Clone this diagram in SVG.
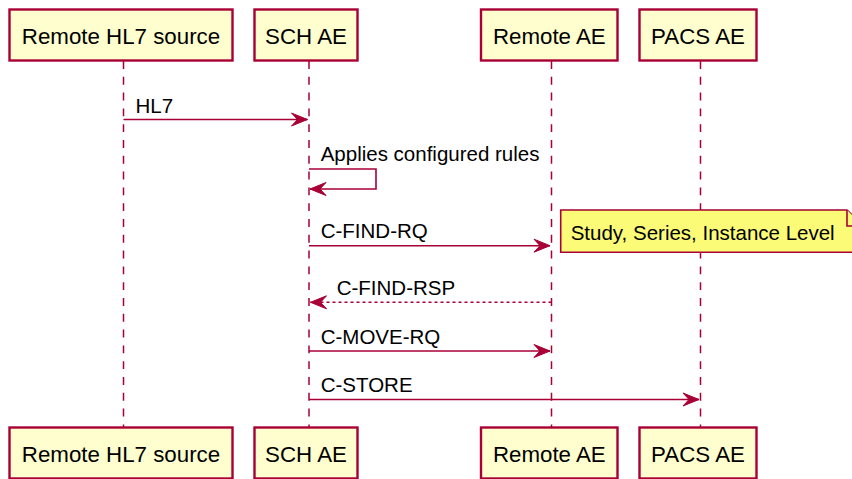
<svg xmlns="http://www.w3.org/2000/svg" width="852" height="479" viewBox="0 0 852 479">
<style>
.box{fill:#FEFECE;stroke:#A80036;stroke-width:2.4}
.life{stroke:#A80036;stroke-width:1.5;stroke-dasharray:7.9,7.9;fill:none}
.msg{stroke:#A80036;stroke-width:1.6;fill:none}
.dot{stroke-dasharray:3,3}
.pt{font-family:"Liberation Sans",Arial,sans-serif;font-size:22.3px;fill:#000;text-anchor:middle}
.mt{font-family:"Liberation Sans",Arial,sans-serif;font-size:20.5px;fill:#000}
.note{fill:#FBFB77;stroke:#A80036;stroke-width:1.6}
</style>
<defs>
<marker id="ah" markerUnits="userSpaceOnUse" viewBox="-17 -8 18 16" refX="0" refY="0" markerWidth="18" markerHeight="16" orient="auto">
<path d="M0,0 L-16,-6.5 L-10,0 L-16,6.5 Z" fill="#A80036" stroke="#A80036" stroke-width="1"/>
</marker>
</defs>
<g id="lifelines">
<line class="life" x1="123.5" y1="61" x2="123.5" y2="427"/>
<line class="life" x1="309" y1="61" x2="309" y2="427"/>
<line class="life" x1="551.5" y1="61" x2="551.5" y2="427"/>
<line class="life" x1="700.5" y1="61" x2="700.5" y2="427"/>
</g>
<g id="p-hl7">
<rect class="box" x="9.5" y="9.5" width="223" height="51"/>
<text class="pt" x="121" y="44">Remote HL7 source</text>
<rect class="box" x="9.5" y="427.5" width="223" height="51"/>
<text class="pt" x="121" y="462">Remote HL7 source</text>
</g>
<g id="p-sch">
<rect class="box" x="254.5" y="9.5" width="103" height="51"/>
<text class="pt" x="306" y="44">SCH AE</text>
<rect class="box" x="254.5" y="427.5" width="103" height="51"/>
<text class="pt" x="306" y="462">SCH AE</text>
</g>
<g id="p-remote">
<rect class="box" x="481" y="9.5" width="136.5" height="51"/>
<text class="pt" x="549.3" y="44">Remote AE</text>
<rect class="box" x="481" y="427.5" width="136.5" height="51"/>
<text class="pt" x="549.3" y="462">Remote AE</text>
</g>
<g id="p-pacs">
<rect class="box" x="639.5" y="9.5" width="117" height="51"/>
<text class="pt" x="698" y="44">PACS AE</text>
<rect class="box" x="639.5" y="427.5" width="117" height="51"/>
<text class="pt" x="698" y="462">PACS AE</text>
</g>
<g id="note">
<path class="note" d="M560.7,210 L847,210 L863,226 L863,252.3 L560.7,252.3 Z"/>
<path class="note" d="M847,210 L847,226 L863,226" fill="none"/>
<text class="mt" x="570.7" y="239.5">Study, Series, Instance Level</text>
</g>
<g id="connectors">
<line class="msg" x1="123.5" y1="119.5" x2="307.5" y2="119.5" marker-end="url(#ah)"/>
<text class="mt" x="135.5" y="113">HL7</text>
<polyline class="msg" points="309,169 376,169 376,189 310,189" marker-end="url(#ah)"/>
<text class="mt" x="320.7" y="161">Applies configured rules</text>
<line class="msg" x1="309" y1="245.7" x2="550" y2="245.7" marker-end="url(#ah)"/>
<text class="mt" x="320.7" y="238">C-FIND-RQ</text>
<line class="msg dot" x1="551.5" y1="302.3" x2="310.5" y2="302.3" marker-end="url(#ah)"/>
<text class="mt" x="336.7" y="295">C-FIND-RSP</text>
<line class="msg" x1="309" y1="351" x2="550" y2="351" marker-end="url(#ah)"/>
<text class="mt" x="320.7" y="344">C-MOVE-RQ</text>
<line class="msg" x1="309" y1="399.5" x2="699" y2="399.5" marker-end="url(#ah)"/>
<text class="mt" x="320.7" y="392">C-STORE</text>
</g>
</svg>
